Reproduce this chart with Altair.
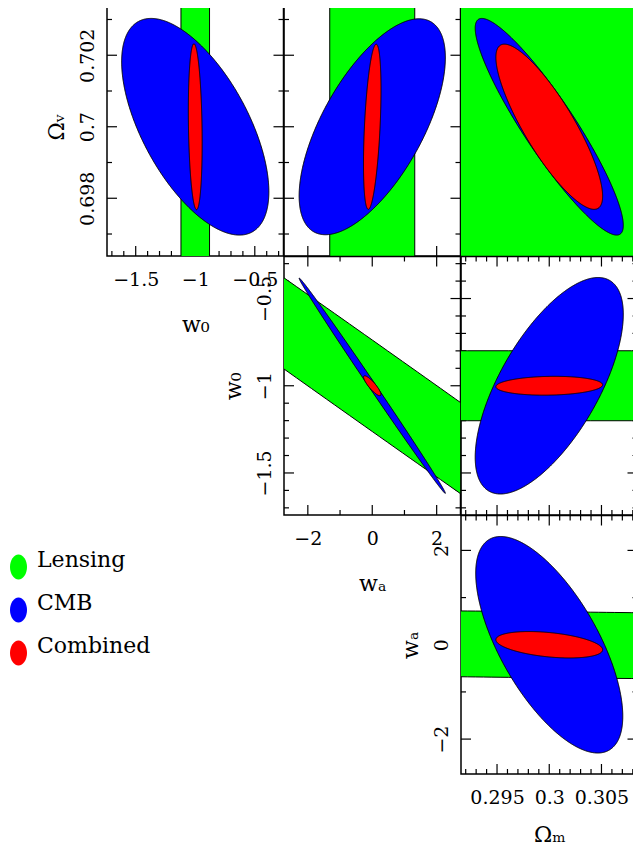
import altair as alt
import pandas as pd

# ---------------- data ----------------
SOURCES = ["Lensing", "CMB", "Combined"]
COLORS = ["#00ff00", "#0000ff", "#ff0000"]

# fiducial centres of the parameters
W0_C, WA_C, OM_C, OV_C = -1.0, 0.0, 0.3, 0.7
# half-ranges of the plotted windows
W0_HALF, WA_HALF, OM_HALF, OV_HALF = 0.741, 2.74, 0.00845, 0.003615

# ellipse half-extent in x, half-extent in y, correlation  (Lensing, CMB, Combined)
A_SX = [0.12, 0.618, 0.058]          # w0
A_SY = [0.5, 0.00303, 0.00232]       # Omega_v
A_RHO = [0.0, -0.60, -0.19]

B_SX = [1.32, 2.27, 0.272]           # wa
B_SY = [0.5, 0.00302, 0.00231]       # Omega_v
B_RHO = [0.0, 0.64, 0.45]

C_SX = [0.03, 0.00709, 0.00511]      # Omega_m
C_SY = [0.05, 0.00303, 0.00231]      # Omega_v
C_RHO = [0.0, -0.91, -0.84]

D_SX = [30.0, 2.27, 0.268]           # wa
D_SY = [3.921, 0.617, 0.057]         # w0
D_RHO = [-0.99776, -0.9985, -0.87]

E_SX = [0.5, 0.00709, 0.00511]       # Omega_m
E_SY = [0.2006, 0.6206, 0.054]       # w0
E_RHO = [0.0, 0.66, 0.1]

F_SX = [0.1, 0.00704, 0.00511]       # Omega_m
F_SY = [0.7356, 2.295, 0.28]         # wa
F_RHO = [-0.307, -0.66, -0.38]

# tick values
W0_MAJOR = [-1.5, -1.0, -0.5]
W0_MINOR = [-1.7, -1.6, -1.4, -1.3, -1.2, -1.1, -0.9, -0.8, -0.7, -0.6, -0.4, -0.3]
WA_MAJOR = [-2, 0, 2]
WA_MINOR = [-1, 1]
OM_MAJOR = [0.295, 0.3, 0.305]
OM_MINOR = [0.292, 0.293, 0.294, 0.296, 0.297, 0.298, 0.299, 0.301, 0.302,
            0.303, 0.304, 0.306, 0.307, 0.308]
OV_MAJOR = [0.698, 0.7, 0.702]
OV_MINOR = [0.697, 0.699, 0.701, 0.703]

# ---------------- styling ----------------
W, H = 176.5, 258.5
FONT = "DejaVu Serif"
NPTS = 400
MAJ_LEN, MIN_LEN = 10, 5
ELLIPSE_PATH = "M0,-1 A0.68,1 0 1,1 0,1 A0.68,1 0 1,1 0,-1 Z"

LEGEND = alt.Legend(
    title=None, orient="none", legendX=-101, legendY=557,
    symbolType=ELLIPSE_PATH, symbolSize=625, symbolStrokeWidth=0, symbolOpacity=1,
    labelFont=FONT, labelFontSize=22, labelColor="black", labelOffset=6,
    labelBaseline="alphabetic", rowPadding=12,
)
COLOR_SCALE = alt.Scale(domain=SOURCES, range=COLORS)


def sc(c, half):
    return alt.Scale(domain=[c - half, c + half], nice=False, zero=False)


def x_axis(vals, title, tpad):
    return alt.Axis(values=vals, format="~g", ticks=False, tickSize=0, domain=False,
                    grid=False, labelFont=FONT, labelFontSize=19, labelColor="black",
                    labelPadding=14, labelFlush=False, labelOverlap=False,
                    title=title, titleFont=FONT, titleFontSize=22,
                    titleFontWeight="normal", titleColor="black", titlePadding=tpad)


def y_axis(vals, title):
    return alt.Axis(values=vals, format="~g", ticks=False, tickSize=0, domain=False,
                    grid=False, labelFont=FONT, labelFontSize=19, labelColor="black",
                    labelPadding=14, labelFlush=False, labelOverlap=False,
                    labelAngle=270, labelAlign="center", labelBaseline="alphabetic",
                    title=title, titleFont=FONT, titleFontSize=22,
                    titleFontWeight="normal", titleColor="black", titlePadding=10)


def ellipse(i, sx, sy, rho, cx, cy, xs, ys, xax, yax):
    df = pd.DataFrame({"src": [SOURCES[i]], "cx": [cx], "cy": [cy],
                       "sx": [sx[i]], "sy": [sy[i]], "rho": [rho[i]]})
    return (
        alt.Chart(df)
        .transform_calculate(k=f"sequence(0, {NPTS + 1})")
        .transform_flatten(["k"])
        .transform_calculate(
            ex=f"datum.cx + datum.sx * cos(PI * datum.k / {NPTS})",
            mid=f"datum.cy + datum.rho * datum.sy * cos(PI * datum.k / {NPTS})",
            half=f"datum.sy * sqrt(1 - datum.rho * datum.rho) * sin(PI * datum.k / {NPTS})",
        )
        .transform_calculate(ey="datum.mid + datum.half", ey2="datum.mid - datum.half")
        .mark_area(clip=True, stroke="black", strokeWidth=1, opacity=1)
        .encode(
            x=alt.X("ex:Q", scale=xs, axis=xax),
            y=alt.Y("ey:Q", scale=ys, axis=yax),
            y2="ey2:Q",
            color=alt.Color("src:N", scale=COLOR_SCALE, legend=LEGEND),
        )
    )


def ticks(xmaj, xmin, ymaj, ymin, xs, ys, xax, yax):
    out = []
    for vals, L in [(xmaj, MAJ_LEN), (xmin, MIN_LEN)]:
        base = alt.Chart(pd.DataFrame({"v": vals})).mark_rule(color="black", strokeWidth=1.2)
        xe = alt.X("v:Q", scale=xs, axis=xax)
        out.append(base.encode(x=xe, y=alt.value(0), y2=alt.value(L)))
        out.append(base.encode(x=xe, y=alt.value(H), y2=alt.value(H - L)))
    for vals, L in [(ymaj, MAJ_LEN), (ymin, MIN_LEN)]:
        base = alt.Chart(pd.DataFrame({"v": vals})).mark_rule(color="black", strokeWidth=1.2)
        ye = alt.Y("v:Q", scale=ys, axis=yax)
        out.append(base.encode(y=ye, x=alt.value(0), x2=alt.value(L)))
        out.append(base.encode(y=ye, x=alt.value(W), x2=alt.value(W - L)))
    return out


def panel(sx, sy, rho, xc, xh, yc, yh, xt, yt, xlab=None, ylab=None, tpad=25):
    xs, ys = sc(xc, xh), sc(yc, yh)
    xax = x_axis(xt[0], xlab, tpad) if xlab else None
    yax = y_axis(yt[0], ylab) if ylab else None
    layers = ticks(xt[0], xt[1], yt[0], yt[1], xs, ys, xax, yax)
    for i in range(3):
        layers.append(ellipse(i, sx, sy, rho, xc, yc, xs, ys, xax, yax))
    return alt.layer(*layers).properties(width=W, height=H)


def blank():
    return (alt.Chart(pd.DataFrame({"a": [0]})).mark_point(opacity=0)
            .encode(x=alt.value(0), y=alt.value(0))
            .properties(width=W, height=H, view=alt.ViewBackground(stroke="transparent")))


W0T = (W0_MAJOR, W0_MINOR)
WAT = (WA_MAJOR, WA_MINOR)
OMT = (OM_MAJOR, OM_MINOR)
OVT = (OV_MAJOR, OV_MINOR)

pA = panel(A_SX, A_SY, A_RHO, W0_C, W0_HALF, OV_C, OV_HALF, W0T, OVT, "w₀", "Ωᵥ")
pB = panel(B_SX, B_SY, B_RHO, WA_C, WA_HALF, OV_C, OV_HALF, WAT, OVT)
pC = panel(C_SX, C_SY, C_RHO, OM_C, OM_HALF, OV_C, OV_HALF, OMT, OVT)
pD = panel(D_SX, D_SY, D_RHO, WA_C, WA_HALF, W0_C, W0_HALF, WAT, W0T, "wₐ", "w₀")
pE = panel(E_SX, E_SY, E_RHO, OM_C, OM_HALF, W0_C, W0_HALF, OMT, W0T)
pF = panel(F_SX, F_SY, F_RHO, OM_C, OM_HALF, WA_C, WA_HALF, OMT, WAT, "Ωₘ", "wₐ", tpad=17)

chart = (
    alt.concat(pA, pB, pC, blank(), pD, pE, blank(), blank(), pF,
               columns=3, spacing=0, bounds="flush")
    .resolve_scale(color="shared")
    .properties(padding={"top": -12.5, "left": -2, "right": -6, "bottom": 0})
    .configure_view(stroke="black", strokeWidth=1.5)
)

chart.save("out.html", embed_options={"renderer": "svg", "actions": False})
